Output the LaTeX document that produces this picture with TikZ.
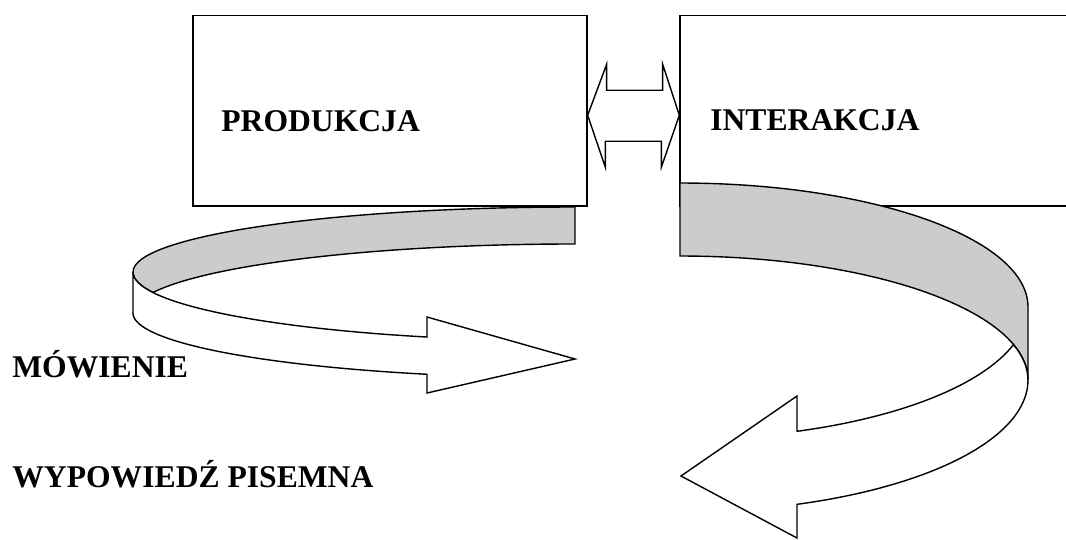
\documentclass[tikz,border=0pt]{standalone}
\usepackage{fontspec}
\setmainfont{Liberation Serif}
\usetikzlibrary{calc}
\tikzstyle{box} = [rectangle, draw=black, fill=white, line width=0.8pt, inner sep=0pt, minimum height=3.81cm]
\tikzstyle{txt} = [inner sep=0pt, anchor=base west, font=\fontsize{18}{20}\selectfont\bfseries]
\tikzstyle{ribbonback} = [draw=black, fill=gray!40, line width=0.8pt]
\tikzstyle{ribbonfront} = [draw=black, fill=white, line width=0.8pt]
\tikzstyle{link} = [draw=black, fill=white, line width=0.8pt]

\begin{document}
\begin{tikzpicture}[x=0.02cm, y=-0.02cm]
\path[use as bounding box, clip] (0,0) rectangle (1066,539);

% left ribbon, under the box
\draw[ribbonback] (575,207) arc[start angle=270, end angle=180, x radius=442, y radius=65]
    arc[start angle=180, end angle=162.72, x radius=442, y radius=69]
    arc[start angle=197.28, end angle=270, x radius=442, y radius=69] -- cycle;
\draw[ribbonfront] (133,313) -- (133,272)
    arc[start angle=180, end angle=109.56, x radius=442, y radius=69]
    -- (427,317) -- (575,359) -- (427,393) -- (427,374.25)
    arc[start angle=109.56, end angle=180, x radius=442, y radius=65] -- cycle;

\node (prod) [box, minimum width=7.88cm] at (390,110.75) {};
\node (inter) [box, minimum width=8.2cm] at (885,110.75) {};

% right ribbon, over the box
\draw[ribbonback] (680,183) arc[start angle=270, end angle=360, x radius=348, y radius=124]
    -- (1028,380) arc[start angle=0, end angle=-90, x radius=348, y radius=124] -- cycle;
\draw[ribbonfront] (1028,380) arc[start angle=0, end angle=70.35, x radius=348, y radius=132]
    -- (797,538) -- (681,476) -- (797,396) -- (797,431.3)
    arc[start angle=70.35, end angle=16.59, x radius=348, y radius=132]
    arc[start angle=-16.59, end angle=0, x radius=348, y radius=124] -- cycle;

\draw[link] ($(prod.east)+(0,4.5)$) -- ++(19,-51) -- ++(0,26) -- ++(56,0) -- ++(0,-26)
    -- ($(inter.west)+(0,4.5)$) -- ++(-18,52) -- ++(0,-26) -- ++(-56,0) -- ++(0,26) -- cycle;

\node (prodtxt) [txt] at (221,131) {PRODUKCJA};
\node (intertxt) [txt] at (710,130) {INTERAKCJA};
\node (mowienie) [txt] at (12,377) {MÓWIENIE};
\node (pisemna) [txt] at (12,487) {WYPOWIEDŹ PISEMNA};

\end{tikzpicture}
\end{document}
